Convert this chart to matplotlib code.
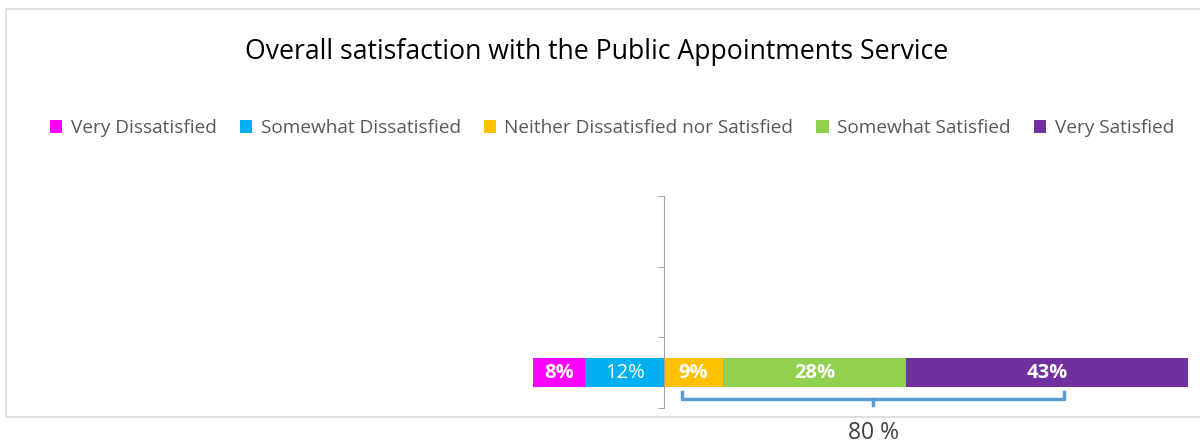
import matplotlib.pyplot as plt
from matplotlib.patches import Rectangle, Patch

plt.rcParams['font.family'] = ['Open Sans', 'DejaVu Sans']

# Survey responses (% of respondents)
categories = ['Very Dissatisfied', 'Somewhat Dissatisfied',
              'Neither Dissatisfied nor Satisfied', 'Somewhat Satisfied',
              'Very Satisfied']
values = [8, 12, 9, 28, 43]
colors = ['#FF00FF', '#00B0F0', '#FFC000', '#92D050', '#7030A0']
bold = [True, False, True, True, True]

# first two categories sit left of zero, the rest to the right
n_neg = 2

fig = plt.figure(figsize=(12, 4.46), dpi=100)
W, H = 1200, 446

# light chart frame
fig.patches.append(Rectangle((6 / W, (H - 417) / H), 1.2, (417 - 9) / H,
                             transform=fig.transFigure, fill=False,
                             edgecolor='#D9D9D9', lw=1.2))

ax = fig.add_axes([0, (H - 408) / H, 1, (408 - 196) / H])
px_per_pct = 6.55
ax.set_xlim(-664 / px_per_pct, (W - 664) / px_per_pct)
ax.set_ylim(-0.5, 2.5)

row = 0
h = 0.41
left = -sum(values[:n_neg])
for i, (v, c) in enumerate(zip(values, colors)):
    ax.barh(row, v, left=left, height=h, color=c, edgecolor='none')
    ax.text(left + v / 2, row, f'{v}%', ha='center', va='center',
            color='white', fontsize=14.5,
            fontweight='bold' if bold[i] else 'normal')
    left += v

# spine at zero with category boundary ticks
for s in ['top', 'right', 'bottom']:
    ax.spines[s].set_visible(False)
ax.spines['left'].set_position(('data', 0))
ax.spines['left'].set_color('#A6A6A6')
ax.set_yticks([-0.5, 0.5, 1.5, 2.5])
ax.set_yticklabels([])
ax.tick_params(axis='y', length=4, color='#A6A6A6', direction='out')
ax.set_xticks([])
ax.patch.set_alpha(0)

# bracket over the satisfied share
b0, b1 = 2.75, 61.1
y_top, y_mid, y_tip = -0.274, -0.373, -0.458
bc = '#5B9BD5'
ax.plot([b0, b0, b1, b1], [y_top, y_mid, y_mid, y_top], color=bc, lw=2.5,
        clip_on=False, solid_joinstyle='round')
bm = (b0 + b1) / 2
ax.plot([bm, bm], [y_mid, y_tip], color=bc, lw=2.5, clip_on=False)
ax.text(bm, -0.86, f'{sum(values[n_neg:])} %', ha='center', va='center',
        fontsize=16.5, color='#404040', clip_on=False)

fig.text(597 / W, 1 - 52 / H,
         'Overall satisfaction with the Public Appointments Service',
         ha='center', va='center', fontsize=19.2, color='black')

handles = [Patch(facecolor=c, edgecolor='none') for c in colors]
leg = fig.legend(handles, categories, loc='center', ncol=5,
                 bbox_to_anchor=(612 / W, 1 - 128 / H), frameon=False,
                 fontsize=13.7, handlelength=0.65, handleheight=0.65,
                 handletextpad=0.45, columnspacing=1.2)
for t in leg.get_texts():
    t.set_color('#595959')

fig.savefig('out.png', dpi=100)
